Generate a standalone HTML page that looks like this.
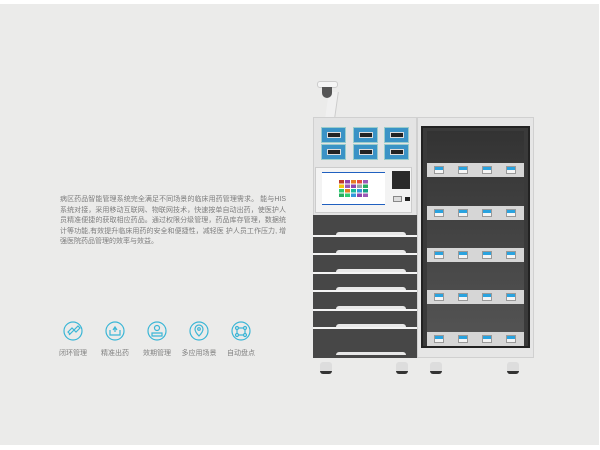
<!DOCTYPE html>
<html><head><meta charset="utf-8"><style>
*{margin:0;padding:0;box-sizing:border-box}
body{width:600px;height:450px;background:#fff;position:relative;overflow:hidden;font-family:"Liberation Sans","Noto Sans CJK SC",sans-serif}
.a{position:absolute}
.bg{left:0;top:4px;width:599px;height:441px;background:#ebebea}
.txt{left:60px;top:195px;width:226px;font-size:7px;line-height:10.6px;color:#7d7d7d}
.txt div{white-space:nowrap;text-align:justify;text-align-last:justify}
.txt div.l{text-align-last:left}
.lab{font-size:7px;color:#808080;width:50px;text-align:center;top:348px}
.door{background:#3a93c6;width:25px;height:16px;border:1px solid #9cc}
.door i{position:absolute;left:5px;top:4px;width:14px;height:6px;background:#222;border:1px solid #ddd}
.dr{left:313px;width:104px;background:#474747}
.ln{left:313px;width:104px;height:2px;background:#f4f4f4}
.hd{width:70px;height:3px;background:#e8e8e8;border-radius:3px 3px 0 0;left:336px}
.sh{left:427px;width:97px;height:14px;background:#d6d6d6}
.tg{width:10px;height:8px;background:#f4f4f4;border:1px solid #999}
.tg b{display:block;height:3px;background:#2aa3df}
.wh{width:12px;height:12px;background:#ddd;border-radius:3px;border-bottom:3px solid #333}
</style></head><body>
<div class="a bg"></div>
<div class="a txt">
<div>病区药品智能管理系统完全满足不同场景的临床用药管理需求。 能与HIS</div>
<div>系统对接，采用移动互联网、物联网技术，快速按单自动出药，使医护人</div>
<div>员精准便捷的获取相应药品。通过权限分级管理，药品库存管理，数据统</div>
<div>计等功能,有效提升临床用药的安全和便捷性，减轻医 护人员工作压力, 增</div>
<div class="l">强医院药品管理的效率与效益。</div>
</div>
<svg class="a" style="left:0;top:0" width="600" height="450">
<g fill="none" stroke="#3bb6d6" stroke-width="1.2">
<circle cx="73" cy="331" r="9"/><circle cx="115" cy="331" r="9"/><circle cx="157" cy="331" r="9"/><circle cx="199" cy="331" r="9"/><circle cx="241" cy="331" r="9"/>
<path d="M69 335l8-8M68 332l4-4 2 2-4 4zM74 330l4-4 2 2-4 4z"/>
<path d="M110 330v5h10v-5M113 330l2-3 2 3M115 327v5"/>
<circle cx="157" cy="328" r="2.5"/><path d="M152 336v-3h10v3z"/>
<path d="M199 336c-3-3-4-5-4-7a4 4 0 0 1 8 0c0 2-1 4-4 7z"/><circle cx="199" cy="329" r="1.3"/>
<circle cx="237" cy="328" r="1.5"/><circle cx="245" cy="328" r="1.5"/><circle cx="237" cy="335" r="1.5"/><circle cx="245" cy="335" r="1.5"/><path d="M238 328h6M237 329v5M245 329v5M238 335h6"/>
</g></svg>
<div class="a lab" style="left:48px">闭环管理</div>
<div class="a lab" style="left:90px">精准出药</div>
<div class="a lab" style="left:132px">效期管理</div>
<div class="a lab" style="left:174px">多应用场景</div>
<div class="a lab" style="left:216px">自动盘点</div>

<!-- camera -->
<div class="a" style="left:327px;top:92px;width:10px;height:26px;background:#f0f0f0;border-right:1px solid #ccc;transform:skewX(-8deg)"></div>
<div class="a" style="left:317px;top:81px;width:21px;height:7px;background:#f5f5f5;border:1px solid #ccc;border-radius:3px"></div>
<div class="a" style="left:322px;top:87px;width:10px;height:11px;background:#555;border-radius:0 0 6px 6px"></div>

<!-- left cabinet -->
<div class="a" style="left:313px;top:117px;width:104px;height:241px;background:#e4e4e4;border:1px solid #d0d0d0"></div>
<div class="a door" style="left:321px;top:127px"><i></i></div>
<div class="a door" style="left:353px;top:127px"><i></i></div>
<div class="a door" style="left:384px;top:127px"><i></i></div>
<div class="a door" style="left:321px;top:144px"><i></i></div>
<div class="a door" style="left:353px;top:144px"><i></i></div>
<div class="a door" style="left:384px;top:144px"><i></i></div>
<div class="a" style="left:315px;top:167px;width:97px;height:46px;background:#f3f3f3;border:1px solid #ccc"></div>
<div class="a" style="left:322px;top:172px;width:63px;height:33px;background:#fff;border-bottom:1px solid #2060c0;border-top:1px solid #2060c0"></div>
<svg class="a" style="left:339px;top:180px" width="29" height="17">
<g><rect x="0" y="0" width="5" height="3.5" fill="#c0392b"/><rect x="6" y="0" width="5" height="3.5" fill="#8e44ad"/><rect x="12" y="0" width="5" height="3.5" fill="#e67e22"/><rect x="18" y="0" width="5" height="3.5" fill="#e74c3c"/><rect x="24" y="0" width="5" height="3.5" fill="#9b59b6"/>
<rect x="0" y="4.5" width="5" height="3.5" fill="#f1c40f"/><rect x="6" y="4.5" width="5" height="3.5" fill="#9b59b6"/><rect x="12" y="4.5" width="5" height="3.5" fill="#8e44ad"/><rect x="18" y="4.5" width="5" height="3.5" fill="#95a5a6"/><rect x="24" y="4.5" width="5" height="3.5" fill="#27ae60"/>
<rect x="0" y="9" width="5" height="3.5" fill="#2ecc71"/><rect x="6" y="9" width="5" height="3.5" fill="#e67e22"/><rect x="12" y="9" width="5" height="3.5" fill="#1abc9c"/><rect x="18" y="9" width="5" height="3.5" fill="#3498db"/><rect x="24" y="9" width="5" height="3.5" fill="#16a085"/>
<rect x="0" y="13.5" width="5" height="3.5" fill="#27ae60"/><rect x="6" y="13.5" width="5" height="3.5" fill="#2ecc71"/><rect x="12" y="13.5" width="5" height="3.5" fill="#3498db"/><rect x="18" y="13.5" width="5" height="3.5" fill="#8e44ad"/><rect x="24" y="13.5" width="5" height="3.5" fill="#9b59b6"/></g></svg>
<div class="a" style="left:392px;top:171px;width:18px;height:18px;background:#2a2a2a"></div>
<div class="a" style="left:393px;top:196px;width:9px;height:6px;background:#ddd;border:1px solid #888"></div>
<div class="a" style="left:405px;top:197px;width:5px;height:4px;background:#222"></div>
<div class="a dr" style="top:215px;height:143px"></div>
<div class="a ln" style="top:235px"></div>
<div class="a ln" style="top:253px"></div>
<div class="a ln" style="top:272px"></div>
<div class="a ln" style="top:290px"></div>
<div class="a ln" style="top:309px"></div>
<div class="a ln" style="top:327px"></div>
<div class="a hd" style="top:232px"></div>
<div class="a hd" style="top:250px"></div>
<div class="a hd" style="top:269px"></div>
<div class="a hd" style="top:287px"></div>
<div class="a hd" style="top:306px"></div>
<div class="a hd" style="top:324px"></div>
<div class="a hd" style="top:352px"></div>

<!-- right cabinet -->
<div class="a" style="left:417px;top:117px;width:117px;height:241px;background:#e6e6e6;border:1px solid #d0d0d0"></div>
<div class="a" style="left:421px;top:126px;width:109px;height:222px;background:#3a3a3a;border:2px solid #222"></div>
<div class="a" style="left:427px;top:131px;width:97px;height:215px;background:linear-gradient(180deg,#333,#555)"></div>
<div class="a sh" style="top:163px"></div><div class="a sh" style="top:206px"></div><div class="a sh" style="top:248px"></div><div class="a sh" style="top:290px"></div><div class="a sh" style="top:332px"></div>
<div class="a tg" style="left:434px;top:166px"><b></b></div><div class="a tg" style="left:458px;top:166px"><b></b></div><div class="a tg" style="left:482px;top:166px"><b></b></div><div class="a tg" style="left:506px;top:166px"><b></b></div>
<div class="a tg" style="left:434px;top:209px"><b></b></div><div class="a tg" style="left:458px;top:209px"><b></b></div><div class="a tg" style="left:482px;top:209px"><b></b></div><div class="a tg" style="left:506px;top:209px"><b></b></div>
<div class="a tg" style="left:434px;top:251px"><b></b></div><div class="a tg" style="left:458px;top:251px"><b></b></div><div class="a tg" style="left:482px;top:251px"><b></b></div><div class="a tg" style="left:506px;top:251px"><b></b></div>
<div class="a tg" style="left:434px;top:293px"><b></b></div><div class="a tg" style="left:458px;top:293px"><b></b></div><div class="a tg" style="left:482px;top:293px"><b></b></div><div class="a tg" style="left:506px;top:293px"><b></b></div>
<div class="a tg" style="left:434px;top:335px"><b></b></div><div class="a tg" style="left:458px;top:335px"><b></b></div><div class="a tg" style="left:482px;top:335px"><b></b></div><div class="a tg" style="left:506px;top:335px"><b></b></div>

<!-- wheels -->
<div class="a wh" style="left:320px;top:362px"></div>
<div class="a wh" style="left:396px;top:362px"></div>
<div class="a wh" style="left:430px;top:362px"></div>
<div class="a wh" style="left:507px;top:362px"></div>
</body></html>
